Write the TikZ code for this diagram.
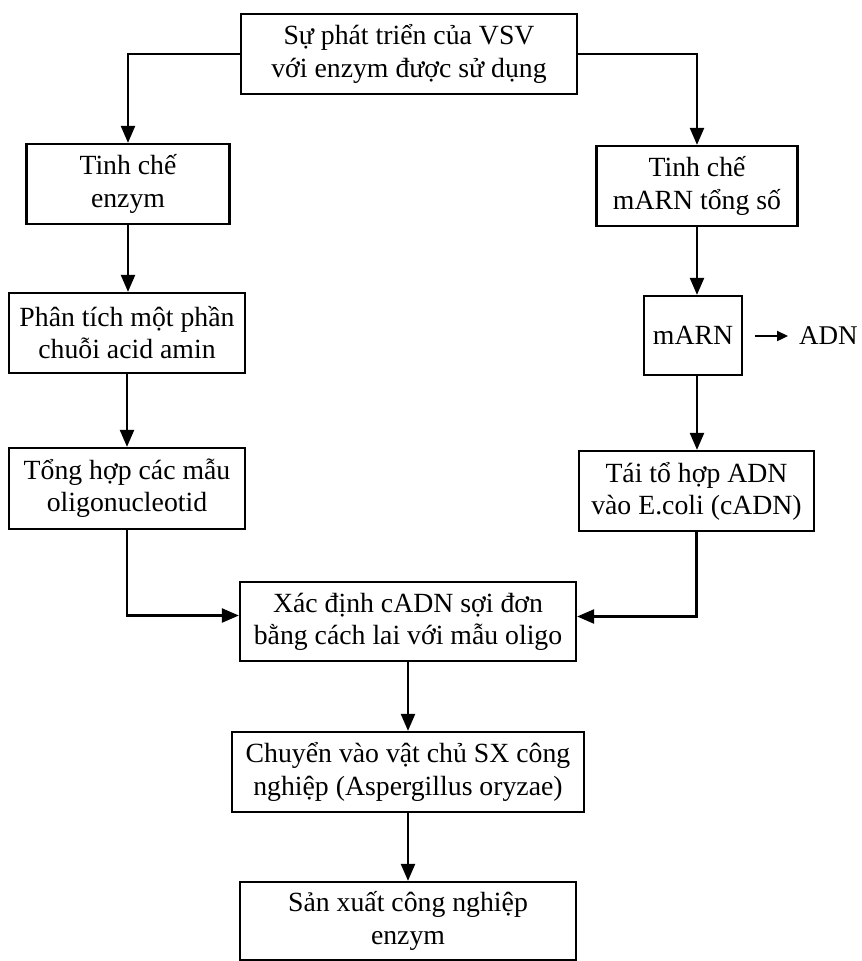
\documentclass[tikz,border=0pt]{standalone}
\usepackage{fontspec}
\setmainfont{Liberation Serif}
\usetikzlibrary{arrows.meta}
\begin{document}
\begin{tikzpicture}[x=0.02cm,y=-0.02cm,line width=1.3pt,
    box/.style={draw,align=center,inner sep=0pt,minimum height=1.6cm,
      font=\fontsize{15.8}{18.3}\selectfont},
    arr/.style={-{Triangle[length=0.34cm,width=0.28cm]}},
    smallarr/.style={-{Triangle[length=0.22cm,width=0.2cm]}}]
      \useasboundingbox (0,0) rectangle (862,961);
      \node[box,minimum width=6.72cm] (growth) at (409,54) {Sự phát triển của VSV\\với enzym được sử dụng};
      \node[box,minimum width=4.06cm] (purenz) at (128,184) {Tinh chế\\enzym};
      \node[box,minimum width=4.02cm] (purmrna) at (697,186) {Tinh chế\\mARN tổng số};
      \node[box,minimum width=4.72cm] (analysis) at (127,333) {Phân tích một phần\\chuỗi acid amin};
      \node[box,minimum width=1.96cm,minimum height=1.58cm] (mrna) at (693,335.5) {mARN};
      \node[font=\fontsize{15.4}{18.3}\selectfont,inner sep=0pt,anchor=west] (adn) at (798,336) {ADN};
      \coordinate (adnstart) at (755,336);
      \node[box,minimum width=4.72cm,minimum height=1.62cm] (probes) at (127,488.5) {Tổng hợp các mẫu\\oligonucleotid};
      \node[box,minimum width=4.7cm] (recomb) at (696.5,491) {Tái tổ hợp ADN\\vào E.coli (cADN)};
      \node[box,minimum width=6.72cm,minimum height=1.58cm] (screen) at (408,621.5) {Xác định cADN sợi đơn\\bằng cách lai với mẫu oligo};
      \node[box,minimum width=7.04cm] (transfer) at (408,772) {Chuyển vào vật chủ SX công\\nghiệp (Aspergillus oryzae)};
      \node[box,minimum width=6.72cm,minimum height=1.56cm] (production) at (408,921) {Sản xuất công nghiệp\\enzym};
      \draw[arr] (growth.west) -| (purenz.north);
      \draw[arr] (growth.east) -| (purmrna.north);
      \draw[arr] (purenz.south) -- (purenz.south |- analysis.north);
      \draw[arr] (analysis.south) -- (analysis.south |- probes.north);
      \draw[arr] (purmrna.south) -- (purmrna.south |- mrna.north);
      \draw[arr] (purmrna.south |- mrna.south) -- (purmrna.south |- recomb.north);
      \draw[smallarr] (adnstart) -- ([xshift=-0.2cm]adn.west);
      \draw[arr] (probes.south) |- ([yshift=0.12cm]screen.west);
      \draw[arr] (recomb.south) |- ([yshift=0.1cm]screen.east);
      \draw[arr] (screen.south) -- (transfer.north);
      \draw[arr] (transfer.south) -- (production.north);
\end{tikzpicture}
\end{document}
